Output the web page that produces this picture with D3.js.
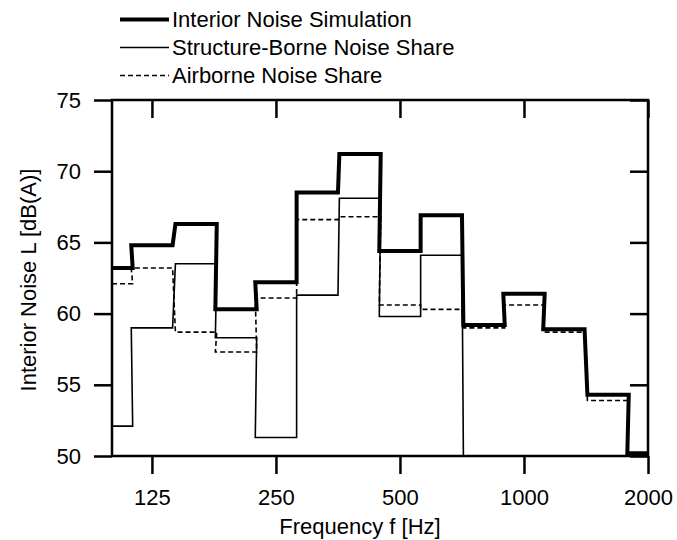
<!DOCTYPE html>
<html lang="en">
  <head>
    <meta charset="UTF-8" />
    <script src="https://d3js.org/d3.v7.min.js"></script>
    <title>Interior noise</title>
    <style>
      body { margin: 0; background: #fff; }
      text { font-family: "Liberation Sans", Arial, sans-serif; fill: #000; }
    </style>
  </head>
  <body>
    <svg width="677" height="540"></svg>
    <script>
      // third-octave band centres [Hz]
      var bands = [100, 125, 160, 200, 250, 315, 400, 500, 630, 800, 1000, 1250, 1600, 2000];
      var interior = [63.2, 64.8, 66.3, 60.3, 62.2, 68.5, 71.2, 64.4, 66.9, 59.2, 61.4, 58.9, 54.3, 50.2];
      var structure = [52.1, 59.0, 63.5, 58.3, 51.3, 61.3, 68.1, 59.8, 64.1, null, null, null, null, null];
      var airborne = [62.1, 63.2, 58.7, 57.3, 61.1, 66.6, 66.8, 60.6, 60.3, 59.0, 60.6, 58.7, 53.9, 50.1];
      var xTicks = [125, 250, 500, 1000, 2000];
      var yTicks = [50, 55, 60, 65, 70, 75];
      var legendNames = ["Interior Noise Simulation", "Structure-Borne Noise Share", "Airborne Noise Share"];

      var svg = d3.select("svg"),
        margin = { top: 100, right: 29, bottom: 84, left: 112 },
        width = +svg.attr("width") - margin.left - margin.right,
        height = +svg.attr("height") - margin.top - margin.bottom;

      var x = d3.scaleLog().domain([100, 2000]).range([margin.left, margin.left + width]);
      var y = d3.scaleLinear().domain([50, 75]).range([margin.top + height, margin.top]);

      svg.append("clipPath").attr("id", "plot")
        .append("rect")
        .attr("x", margin.left).attr("y", margin.top)
        .attr("width", width).attr("height", height);

      // build a step outline over the band edges
      function steps(vals) {
        var pts = [];
        var k = Math.pow(2, 1 / 6);
        for (var i = 0; i < bands.length; i++) {
          var lo = Math.max(bands[i] / k, 100),
            hi = Math.min(bands[i] * k, 2000);
          if (vals[i] == null) {
            pts.push([lo, 50]);
            break;
          }
          pts.push([lo, vals[i]]);
          pts.push([hi, vals[i]]);
        }
        return pts;
      }

      var line = d3.line()
        .x(function (d) { return x(d[0]); })
        .y(function (d) { return y(d[1]); });

      var series = [
        { name: legendNames[0], vals: interior, w: 4, dash: null },
        { name: legendNames[1], vals: structure, w: 1.6, dash: null },
        { name: legendNames[2], vals: airborne, w: 1.6, dash: "5,3" }
      ];

      var g = svg.append("g").attr("clip-path", "url(#plot)");
      series.slice().reverse().forEach(function (s) {
        g.append("path")
          .attr("d", line(steps(s.vals)))
          .attr("fill", "none")
          .attr("stroke", "#000")
          .attr("stroke-width", s.w)
          .attr("stroke-linejoin", "miter")
          .attr("stroke-dasharray", s.dash);
      });

      // frame
      svg.append("rect")
        .attr("x", margin.left).attr("y", margin.top)
        .attr("width", width).attr("height", height)
        .attr("fill", "none").attr("stroke", "#000").attr("stroke-width", 2.5);

      var tl = 18;
      // bottom axis: ticks out, labels
      var xb = svg.append("g")
        .attr("transform", "translate(0," + (margin.top + height) + ")")
        .call(d3.axisBottom(x).tickValues(xTicks).tickFormat(d3.format("d"))
          .tickSize(tl).tickPadding(15));
      // top ticks in
      var xt = svg.append("g")
        .attr("transform", "translate(0," + margin.top + ")")
        .call(d3.axisBottom(x).tickValues(xTicks).tickFormat("").tickSize(tl));
      // left axis: ticks out
      var yl = svg.append("g")
        .attr("transform", "translate(" + margin.left + ",0)")
        .call(d3.axisLeft(y).tickValues(yTicks).tickSize(tl).tickPadding(13));
      // right ticks in
      var yr = svg.append("g")
        .attr("transform", "translate(" + (margin.left + width) + ",0)")
        .call(d3.axisLeft(y).tickValues(yTicks).tickFormat("").tickSize(tl));

      [xb, xt, yl, yr].forEach(function (a) {
        a.select(".domain").remove();
        a.selectAll(".tick line").attr("stroke", "#000").attr("stroke-width", 2.5);
        a.selectAll(".tick text")
          .attr("font-family", "Liberation Sans, Arial, sans-serif")
          .attr("font-size", 22).attr("fill", "#000");
      });

      svg.append("text")
        .attr("x", 360)
        .attr("y", 534)
        .attr("text-anchor", "middle")
        .attr("font-size", 22)
        .text("Frequency f [Hz]");

      svg.append("text")
        .attr("transform", "translate(36,280) rotate(-90)")
        .attr("text-anchor", "middle")
        .attr("font-size", 22)
        .text("Interior Noise L [dB(A)]");

      // legend
      var legend = svg.append("g")
        .selectAll("g")
        .data(series)
        .enter()
        .append("g")
        .attr("transform", function (d, i) { return "translate(120," + (19.5 + i * 28) + ")"; });

      legend.append("line")
        .attr("x1", 0).attr("x2", 49)
        .attr("stroke", "#000")
        .attr("stroke-width", function (d) { return d.w; })
        .attr("stroke-dasharray", function (d) { return d.dash; });

      legend.append("text")
        .attr("x", 52)
        .attr("dy", "0.35em")
        .attr("font-size", 22)
        .text(function (d) { return d.name; });
    </script>
  </body>
</html>
